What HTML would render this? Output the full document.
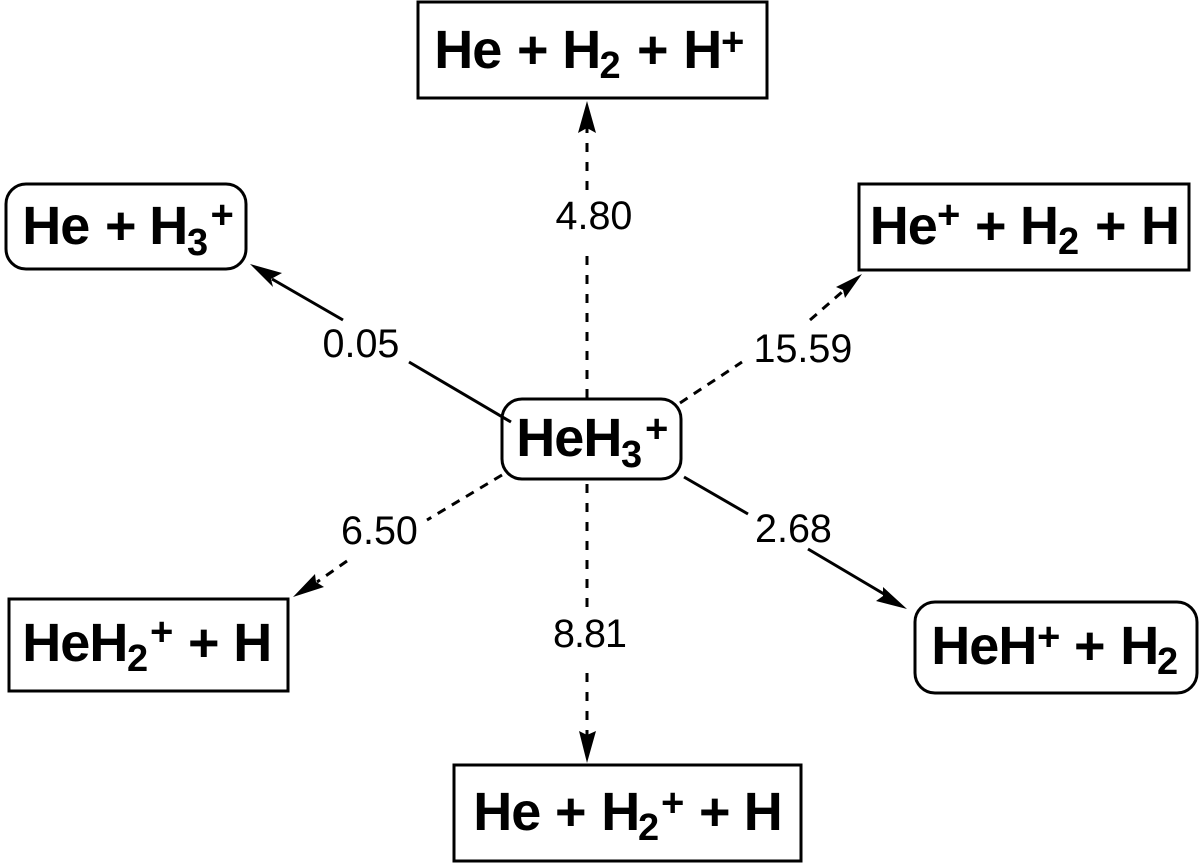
<!DOCTYPE html>
<html><head><meta charset="utf-8"><style>
html,body{margin:0;padding:0;background:#fff;width:1200px;height:867px;overflow:hidden}
svg{display:block}
text{font-family:"Liberation Sans",sans-serif;fill:#000}
.b{font-weight:bold;font-size:54px;letter-spacing:-1px}
.sub{font-size:38px}
.sup{font-size:40px}
.n{font-size:39.5px}
.box{fill:#fff;stroke:#000;stroke-width:3}
.l{stroke:#000;stroke-width:3;fill:none}
.d{stroke:#000;stroke-width:3;fill:none;stroke-dasharray:9 10}
.e{stroke:#000;stroke-width:3;fill:none;stroke-dasharray:9 7.5}
</style></head><body>
<svg width="1200" height="867" viewBox="0 0 1200 867" xmlns="http://www.w3.org/2000/svg">
<rect class="box" x="418" y="2" width="349" height="96"/>
<rect class="box" x="6" y="184" width="240" height="85" rx="20"/>
<rect class="box" x="859" y="184" width="330" height="86"/>
<rect class="box" x="502" y="399" width="179" height="80" rx="20"/>
<rect class="box" x="9" y="599" width="279" height="92"/>
<rect class="box" x="915" y="602" width="282" height="91" rx="20"/>
<rect class="box" x="454" y="765" width="347" height="96"/>

<path class="d" d="M587 398V251"/>
<path class="d" d="M587 190V125"/>
<path d="M587 101L578 133L587 128L596 133Z"/>
<path class="d" d="M587 484V608"/>
<path class="d" d="M587 673V740"/>
<path d="M587 763L579 731L587 735L596 731Z"/>

<path class="l" d="M511 422L409 362"/>
<path class="l" d="M343 320L272 279"/>
<path d="M250 264L282 273L271 279L273 287Z"/>

<path class="e" d="M680 403L742 362"/>
<path class="e" d="M810 320L842 292"/>
<path d="M862 274L836 287L843 290L845 298Z"/>

<path class="e" d="M502 475L427 520"/>
<path class="e" d="M347 561L317 582"/>
<path d="M293 597L315 574L316 582L324 587Z"/>

<path class="l" d="M684 477L748 514"/>
<path class="l" d="M808 549L884 594"/>
<path d="M907 609L883 587L883 596L876 601Z"/>

<text class="n" x="322.5" y="357">0.05</text>
<text class="n" x="555.5" y="229">4.80</text>
<text class="n" x="753.5" y="362">15.59</text>
<text class="n" x="341" y="544">6.50</text>
<text class="n" x="755" y="542">2.68</text>
<text class="n" x="553" y="647" textLength="74">8.81</text>

<text class="b" y="68"><tspan x="434.3">He</tspan><tspan x="517">+</tspan><tspan x="562.3">H</tspan><tspan class="sub" x="599.5" y="78">2</tspan><tspan x="637" y="68">+</tspan><tspan x="683.3">H</tspan><tspan class="sup" x="721" y="55">+</tspan></text>

<text class="b" y="244"><tspan x="22.3">He</tspan><tspan x="105">+</tspan><tspan x="149.3">H</tspan><tspan class="sub" x="187" y="255">3</tspan><tspan class="sup" x="210.5" y="228">+</tspan></text>

<text class="b" y="244"><tspan x="869.8">He</tspan><tspan class="sup" x="937" y="228">+</tspan><tspan x="975" y="244">+</tspan><tspan x="1020">H</tspan><tspan class="sub" x="1058" y="254">2</tspan><tspan x="1095" y="244">+</tspan><tspan x="1141">H</tspan></text>

<text class="b" y="456"><tspan x="516.3">HeH</tspan><tspan class="sub" x="621" y="467">3</tspan><tspan class="sup" x="645" y="442">+</tspan></text>

<text class="b" y="661"><tspan x="22.3">HeH</tspan><tspan class="sub" x="127" y="671">2</tspan><tspan class="sup" x="150" y="645">+</tspan><tspan x="188" y="661">+</tspan><tspan x="233.3">H</tspan></text>

<text class="b" y="664"><tspan x="931.3">HeH</tspan><tspan class="sup" x="1037" y="650">+</tspan><tspan x="1074" y="664">+</tspan><tspan x="1120.3">H</tspan><tspan class="sub" x="1157" y="674">2</tspan></text>

<text class="b" y="830"><tspan x="473.3">He</tspan><tspan x="555">+</tspan><tspan x="601.3">H</tspan><tspan class="sub" x="638" y="840">2</tspan><tspan class="sup" x="661" y="816">+</tspan><tspan x="699" y="830">+</tspan><tspan x="743.8">H</tspan></text>
</svg>
</body></html>
